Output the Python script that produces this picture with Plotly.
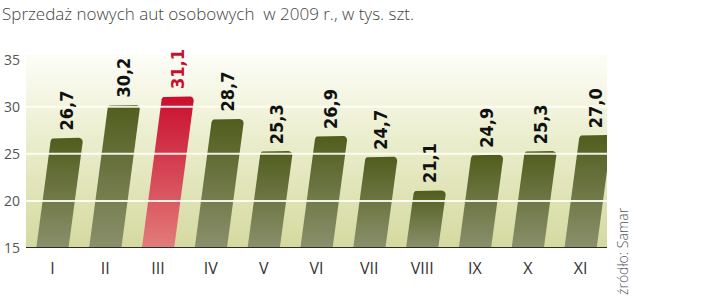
import plotly.graph_objects as go
import math

months = ["I", "II", "III", "IV", "V", "VI", "VII", "VIII", "IX", "X", "XI"]
sales = [26.7, 30.2, 31.1, 28.7, 25.3, 26.9, 24.7, 21.1, 24.9, 25.3, 27.0]
labels = ["26,7", "30,2", "31,1", "28,7", "25,3", "26,9", "24,7", "21,1", "24,9", "25,3", "27,0"]
highlight = "III"
y_ticks = [15, 20, 25, 30, 35]
grid_vals = [20, 25, 30]
title = "Sprzedaż nowych aut osobowych  w 2009 r., w tys. szt."
source = "źródło: Samar"

BASE = 15
YMAX = 35.5
BAR_W = 0.61
SLANT = 0.023   # x-shift (category units) per value unit
RX, RY = 0.075, 0.42

fig = go.Figure()

# background gradient
fig.add_trace(go.Scatter(
    x=[-0.5, 10.5, 10.5, -0.5, -0.5], y=[BASE, BASE, YMAX, YMAX, BASE],
    mode="lines", line=dict(width=0), fill="toself",
    fillgradient=dict(type="vertical",
                      colorscale=[[0, "#d5d99f"], [0.55, "#eaedcc"], [1, "#fdfdf8"]]),
    hoverinfo="skip", showlegend=False))

for i, (m, v) in enumerate(zip(months, sales)):
    s = (v - BASE) * SLANT
    xl0, xr0 = i - BAR_W / 2, i + BAR_W / 2
    xl1, xr1 = xl0 + s, xr0 + s
    xs = [xl0, xr0]
    ys = [BASE, BASE]
    for a in range(0, 91, 15):
        t = math.radians(a)
        xs.append(xr1 - RX + RX * math.cos(t))
        ys.append(v - RY + RY * math.sin(t))
    for a in range(90, 181, 15):
        t = math.radians(a)
        xs.append(xl1 + RX + RX * math.cos(t))
        ys.append(v - RY + RY * math.sin(t))
    xs.append(xl0); ys.append(BASE)
    if m == highlight:
        cs = [[0, "#e27c7a"], [1, "#c90f30"]]
    else:
        cs = [[0, "#8a906c"], [1, "#515d1d"]]
    fig.add_trace(go.Scatter(
        x=xs, y=ys, mode="lines", line=dict(width=0), fill="toself",
        fillgradient=dict(type="vertical", colorscale=cs),
        hoverinfo="skip", showlegend=False))
    fig.add_annotation(
        x=i + s, y=v, text=labels[i], textangle=-90, showarrow=False,
        xanchor="center", yanchor="bottom", yshift=5,
        font=dict(family="DejaVu Sans Condensed, DejaVu Sans", size=18, weight="bold",
                  color="#c90f30" if m == highlight else "#111111"))

# gridlines above bars
gx, gy = [], []
for g in grid_vals:
    gx += [-0.5, 10.5, None]
    gy += [g, g, None]
fig.add_trace(go.Scatter(x=gx, y=gy, mode="lines",
                         line=dict(color="rgba(255,255,245,0.9)", width=2),
                         hoverinfo="skip", showlegend=False))

fig.update_layout(
    width=720, height=299,
    margin=dict(l=26, r=113, t=55, b=51),
    paper_bgcolor="white", plot_bgcolor="white",
    font=dict(family="Open Sans", color="#444"),
    xaxis=dict(tickmode="array", tickvals=list(range(len(months))), ticktext=months,
               range=[-0.5, 10.5], showgrid=False, zeroline=False, automargin=False,
               showline=False, ticks="", ticklabelstandoff=9,
               tickfont=dict(size=16, color="#333", family="Open Sans")),
    yaxis=dict(range=[BASE, YMAX], tickvals=y_ticks, showgrid=False, zeroline=False,
               ticks="", ticklabelstandoff=5, automargin=False,
               tickfont=dict(size=14, color="#555", family="Open Sans")),
    shapes=[dict(type="line", xref="x", yref="y", x0=-0.5, x1=10.5, y0=BASE, y1=BASE,
                 line=dict(color="#2b2b2b", width=2), layer="above")],
    annotations=list(fig.layout.annotations) + [
        dict(text=title, xref="paper", yref="paper", x=-26/581, y=1 + 41/193,
             xanchor="left", yanchor="middle", showarrow=False,
             font=dict(family="Open Sans", size=17, color="#444", weight=300)),
        dict(text=source, xref="paper", yref="paper", x=1 + 15/581, y=-49/193,
             xanchor="center", yanchor="bottom", textangle=-90, showarrow=False,
             font=dict(family="Open Sans", size=14, color="#555", weight=300)),
    ],
)

fig.write_html("out.html")
